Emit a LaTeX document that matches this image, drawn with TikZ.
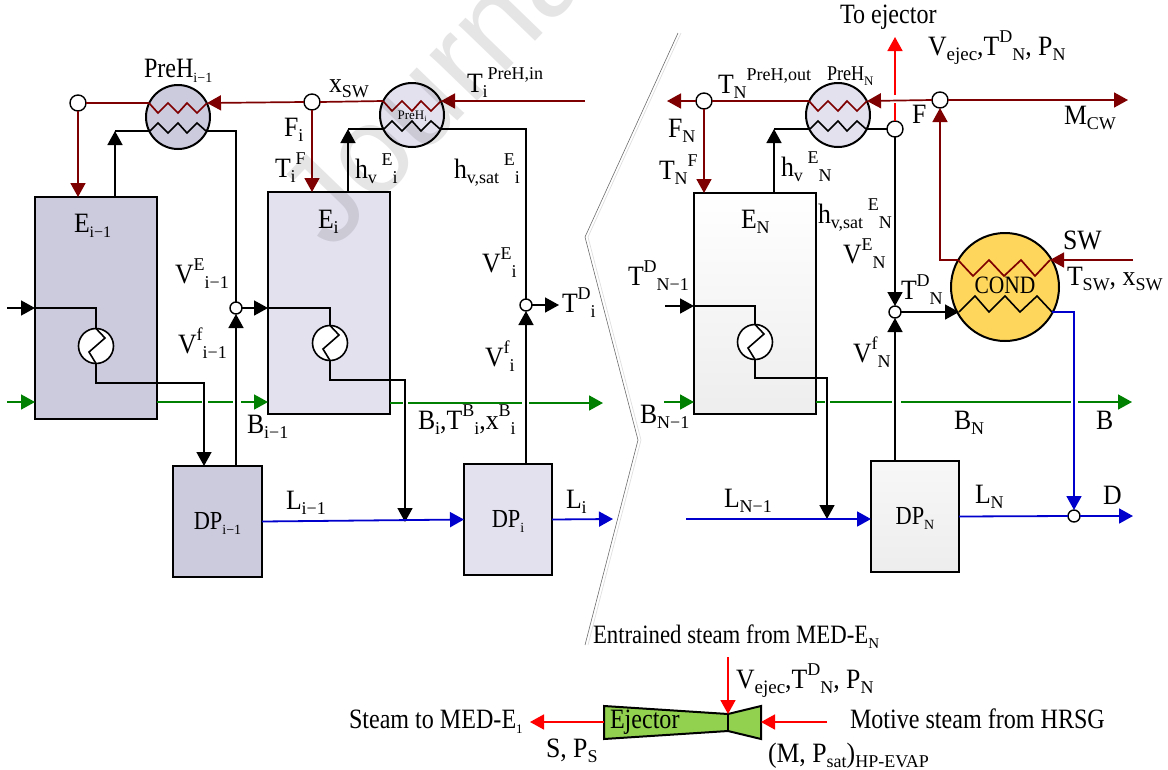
\documentclass[tikz,border=0pt]{standalone}
\usepackage{fontspec}
\setmainfont{Liberation Serif}
\newfontfamily\tallfont[FakeStretch=0.92]{Liberation Serif}
\newfontfamily\longfont[FakeStretch=0.86]{Liberation Serif}
\newfontfamily\wmfont{Liberation Sans}
\usetikzlibrary{arrows.meta,calc}
\definecolor{dred}{HTML}{7F0000}
\definecolor{dgreen}{HTML}{008000}
\definecolor{dblue}{HTML}{0000CC}
\definecolor{darkbox}{HTML}{CCCADD}
\definecolor{lightbox}{HTML}{E3E1EE}
\definecolor{condfill}{HTML}{FFD65C}
\definecolor{ejfill}{HTML}{92D050}
\newcommand\lo[2][18]{\raisebox{-5pt}[0pt][0pt]{\rmfamily\fontsize{#1}{#1}\selectfont #2}}
\newcommand\hi[2][18]{\raisebox{13pt}[0pt][0pt]{\rmfamily\fontsize{#1}{#1}\selectfont #2}}
\newcommand\prehx[1]{%
  \coordinate (#1rl) at ([shift={(-29,-14)}]#1.center);
  \coordinate (#1rr) at ([shift={(29,-14)}]#1.center);
  \coordinate (#1kl) at ([shift={(-28,14)}]#1.center);
  \coordinate (#1kr) at ([shift={(28,14)}]#1.center);
  \draw[red2] (#1rl) -- ([shift={(-20,-4)}]#1.center) -- ([shift={(-10,-14)}]#1.center) -- ([shift={(0,-4)}]#1.center) -- ([shift={(9,-14)}]#1.center) -- ([shift={(19,-4)}]#1.center) -- (#1rr);
  \draw[blk] (#1kl) -- ([shift={(-20,6)}]#1.center) -- ([shift={(-10,16)}]#1.center) -- ([shift={(0,6)}]#1.center) -- ([shift={(9,16)}]#1.center) -- ([shift={(19,6)}]#1.center) -- (#1kr);
}
\newcommand\hxzig[1]{\draw[blk] (#1.north) -- ([shift={(9,-8)}]#1.center) -- ([shift={(-7,6)}]#1.center) -- (#1.south);}
\tikzset{
  x=1pt,y=-1pt,
  tip/.tip={Triangle[length=14pt,width=15pt]},
  blk/.style={draw=black,line width=1.6pt},
  red2/.style={draw=dred,line width=1.7pt},
  brt/.style={draw=red,line width=1.7pt},
  grn/.style={draw=dgreen,line width=1.7pt},
  blu/.style={draw=dblue,line width=1.8pt},
  vessel/.style={draw=black,line width=2.2pt,inner sep=0pt,outer sep=0pt,font=\longfont\fontsize{26}{28}\selectfont},
  hxc/.style={circle,draw=black,line width=2pt,inner sep=0pt,outer sep=0pt,minimum size=64pt},
  coil/.style={circle,draw=black,fill=white,line width=1.6pt,inner sep=0pt,outer sep=0pt,minimum size=35pt},
  jbig/.style={circle,draw=black,fill=white,line width=1.4pt,inner sep=0pt,outer sep=0pt,minimum size=16pt},
  jsmall/.style={circle,draw=black,fill=white,line width=1.4pt,inner sep=0pt,outer sep=0pt,minimum size=12pt},
  lab/.style={anchor=base west,inner sep=0pt,outer sep=0pt,font=\tallfont\fontsize{28}{30}\selectfont},
  longlab/.style={anchor=base west,inner sep=0pt,outer sep=0pt,font=\longfont\fontsize{28}{30}\selectfont},
}
\begin{document}
\begin{tikzpicture}
\useasboundingbox (0,0) rectangle (1168,769);
% gray separator
\draw[gray!25,line width=.7pt] (681,33) -- (588,237) -- (641,440) -- (588,645);
\draw[gray!85!black,line width=.6pt] (678,33) -- (585,237) -- (638,440) -- (585,645);
% vessels
\node[vessel,fill=darkbox,minimum width=122pt,minimum height=222pt] (e1) at (96,308) {};
\node[vessel,fill=lightbox,minimum width=122pt,minimum height=222pt] (e2) at (329,303) {};
\node[vessel,top color=white,bottom color=black!7,minimum width=122pt,minimum height=221pt] (e3) at (755,303.5) {};
\node[vessel,fill=darkbox,minimum width=89pt,minimum height=111pt] (d1) at (217.5,521.5) {DP\lo[14]{i−1}};
\node[vessel,fill=lightbox,minimum width=88pt,minimum height=111pt] (d2) at (508,519.5) {DP\lo[14]{i}};
\node[vessel,top color=black!3,bottom color=black!7,minimum width=88pt,minimum height=111pt] (d3) at (915,516.5) {DP\lo[14]{N}};
% heat exchangers
\node[hxc,fill=darkbox] (p1) at (178,117) {};
\node[hxc,fill=lightbox] (p2) at (412,115) {};
\node[hxc,fill=lightbox] (p3) at (838,115) {};
\node[hxc,fill=condfill,minimum size=108pt] (cond) at (1005,287) {};
\prehx{p1}\prehx{p2}\prehx{p3}
\node[inner sep=0pt,font=\fontsize{13}{14}\selectfont] (p2t) at (412,116) {PreH\raisebox{-2pt}{\fontsize{8}{8}\selectfont i}};
\node[coil] (h1) at (96,346) {};
\node[coil] (h2) at (330,343) {};
\node[coil] (h3) at (755,342) {};
\hxzig{h1}\hxzig{h2}\hxzig{h3}
% condenser coils
\coordinate (crl) at (958,260);
\coordinate (crr) at (1050,260);
\coordinate (ckl) at (959,312);
\coordinate (ckr) at (1052,312);
\draw[red2] (crl) -- (973,276) -- (989,260) -- (1004,276) -- (1021,260) -- (1035,276) -- (crr);
\draw[blk] (ckl) -- (975,296) -- (989,312) -- (1005,296) -- (1020,312) -- (1037,296) -- (ckr);
\node[inner sep=0pt,anchor=base,font=\longfont\fontsize{25}{27}\selectfont] (condt) at (1005,293) {COND};
% junctions
\node[jbig] (j1) at (78,103) {};
\node[jbig] (j2) at (312,102) {};
\node[jbig] (j3) at (704,101) {};
\node[jbig] (jf) at (895,129) {};
\node[jbig] (j5) at (940,100) {};
\node[jsmall] (j4) at (236,308) {};
\node[jsmall] (j6) at (526,305) {};
\node[jsmall] (j7) at (895,312) {};
\node[jsmall] (j8) at (1074,516) {};
% free ends
\coordinate (u1) at (115,131);
\coordinate (u2) at (348,129);
\coordinate (u3) at (774,129);
\coordinate (tin) at (585,101);
\coordinate (fnl) at (667,101);
\coordinate (mcw) at (1128,100);
\coordinate (swin) at (1133,260);
\coordinate (toej) at (895,37);
\coordinate (toeja) at (895,103);
\coordinate (toejb) at (895,95);
\coordinate (in1) at (7,308);
\coordinate (in3) at (665,306);
\coordinate (tdi) at (559,305);
\coordinate (c1) at (204,383);
\coordinate (c2) at (405,380);
\coordinate (c3) at (827,378);
\coordinate (m2) at (405,522);
\coordinate (m3) at (827,519);
% dark red
\draw[red2] (j1.east) -- (p1rl);
\draw[red2,-tip] (j2.west) -- (p1rr);
\draw[red2,-tip] (j1.south) -- (j1.south |- e1.north);
\draw[red2] (j2.east) -- (p2rl);
\draw[red2,-tip] (tin) -- (p2rr);
\draw[red2,-tip] (j2.south) -- (j2.south |- e2.north);
\draw[red2,-tip] (j3.west) -- (fnl);
\draw[red2] (j3.east) -- (p3rl);
\draw[red2,-tip] (j3.south) -- (j3.south |- e3.north);
\draw[red2,-tip] (j5.west) -- (p3rr);
\draw[red2,-tip] (j5.east) -- (mcw);
\draw[red2,-tip] (crl) -| (j5.south);
\draw[red2,-tip] (swin) -- (crr);
% bright red
\draw[brt,-tip] (jf.north) -- (toeja) (toejb) -- (toej);
% black top
\draw[blk,-tip] (u1 |- e1.north) -- (u1);
\draw[blk] (u1) -- (p1kl);
\draw[blk] (p1kr) -| (j4.north);
\draw[blk,-tip] (u2 |- e2.north) -- (u2);
\draw[blk] (u2) -- (p2kl);
\draw[blk] (p2kr) -| (j6.north);
\draw[blk,-tip] (u3 |- e3.north) -- (u3);
\draw[blk] (u3) -- (p3kl);
\draw[blk] (p3kr) -- (jf.west);
\draw[blk,-tip] (jf.south) -- (j7.north);
% flash vapour
\draw[blk,-tip] (j4 |- d1.north) -- (j4.south);
\draw[blk,-tip] (j6 |- d2.north) -- (j6.south);
\draw[blk,-tip] (j7 |- d3.north) -- (j7.south);
\draw[blk,-tip] (j6.east) -- (tdi);
\draw[blk,-tip] (j7.east) -- (ckl);
% evaporator coils
\draw[blk,-tip] (in1) -- (e1.west |- in1);
\draw[blk] (e1.west |- in1) -| (h1.north);
\draw[blk,-tip] (j4.east) -- (e2.west |- j4);
\draw[blk] (e2.west |- j4) -| (h2.north);
\draw[blk,-tip] (in3) -- (e3.west |- in3);
\draw[blk] (e3.west |- in3) -| (h3.north);
\draw[blk,-tip] (h1.south) |- (c1) -- (c1 |- d1.north);
\draw[blk,-tip] (h2.south) |- (c2) -- (m2);
\draw[blk,-tip] (h3.south) |- (c3) -- (m3);
% green
\coordinate (g1) at (7,402);
\coordinate (g2) at (157,402);
\coordinate (g3) at (202,402);
\coordinate (g4) at (208,402);
\coordinate (g5) at (233,402);
\coordinate (g6) at (241,402);
\coordinate (g7) at (403,403);
\coordinate (g8) at (408,403);
\coordinate (g9) at (522,403);
\coordinate (g10) at (529,403);
\coordinate (g11) at (603,403);
\coordinate (g12) at (664,402);
\coordinate (g13) at (825,402);
\coordinate (g14) at (830,402);
\coordinate (g15) at (892,402);
\coordinate (g16) at (901,402);
\coordinate (g17) at (1071,402);
\coordinate (g18) at (1078,402);
\coordinate (g19) at (1132,402);
\draw[grn,-tip] (g1) -- (e1.west |- g1);
\draw[grn,-tip] (g2) -- (g3) (g4) -- (g5) (g6) -- (e2.west |- g6);
\draw[grn,-tip] (e2.east |- g7) -- (g7) (g8) -- (g9) (g10) -- (g11);
\draw[grn,-tip] (g12) -- (e3.west |- g12);
\draw[grn,-tip] (e3.east |- g13) -- (g13) (g14) -- (g15) (g16) -- (g17) (g18) -- (g19);
% blue
\coordinate (b1) at (613,519);
\coordinate (b2) at (686,519);
\coordinate (b3) at (1133,516);
\draw[blu,-tip] (d1.east) -- (d2.west);
\draw[blu,-tip] (d2.east) -- (b1);
\draw[blu,-tip] (b2) -- (d3.west |- b2);
\draw[blu] (d3.east) -- (j8.west);
\draw[blu,-tip] (j8.east) -- (b3);
\draw[blu,-tip] (ckr) -| (j8.north);
% ejector
\draw[black,line width=2pt,fill=ejfill,line join=miter] (604,706) -- (728,714) -- (761,706) -- (761,739) -- (728,731) -- (604,739) -- cycle;
\coordinate (ejt) at (728,714);
\coordinate (ejl) at (604,722);
\coordinate (ejr) at (761,722);
\coordinate (ejtop) at (728,657);
\coordinate (ejout) at (530,722);
\coordinate (ejin) at (827,722);
\draw[blk] (ejt) -- (728,731);
\draw[brt,-tip] (ejtop) -- (ejt);
\draw[brt,-tip] (ejl) -- (ejout);
\draw[brt,-tip] (ejin) -- (ejr);
% labels left
\node[longlab] (t1) at (144,77) {PreH\lo[14]{i−1}};
\node[lab] (t2) at (74,232) {E\lo[16]{i−1}};
\node[lab] (t3) at (175,283) {V\hi{E}\lo{i−1}};
\node[lab] (t4) at (284,136) {F\lo{i}};
\node[lab] (t5) at (275,177) {T\lo{i}\hi{F}};
\node[lab] (t6) at (329,92) {x\lo{SW}};
\node[lab] (t7) at (467,92) {T\lo{i}\hi{PreH,in}};
\node[lab] (t8) at (355,178) {h\lo{v}\,\hi{E}\lo{i}};
\node[lab] (t9) at (454,178) {h\lo{v,sat}\,\hi{E}\lo{i}};
\node[lab] (t10) at (318,228) {E\lo{i}};
\node[lab] (t11) at (482,272) {V\hi{E}\lo{i}};
\node[lab] (t12) at (178,353) {V\hi{f}\lo{i−1}};
\node[lab] (t13) at (247,433) {B\lo{i−1}};
\node[lab] (t14) at (418,429) {B\lo{i},T\hi{B}\lo{i},x\hi{B}\lo{i}};
\node[lab] (t15) at (562,312) {T\hi{D}\lo{i}};
\node[lab] (t16) at (485,366) {V\hi{f}\lo{i}};
\node[lab] (t17) at (286,509) {L\lo{i−1}};
\node[lab] (t18) at (566,508) {L\lo{i}};
% labels right
\node[longlab] (t20) at (840,23) {To ejector};
\node[lab] (t21) at (928,55) {V\lo[19]{ejec},T\hi{D}\lo{N}, P\lo{N}};
\node[lab] (t22) at (718,93) {T\lo{N}\hi{PreH,out}};
\node[lab,font=\longfont\fontsize{21}{23}\selectfont] (t23) at (827,80) {PreH\lo[13]{N}};
\node[lab] (t24) at (912,123) {F};
\node[lab] (t25) at (1064,124) {M\lo{CW}};
\node[lab] (t26) at (668,137) {F\lo{N}};
\node[lab] (t27) at (659,179) {T\lo{N}\hi{F}};
\node[lab] (t28) at (781,176) {h\lo{v}\,\hi{E}\lo{N}};
\node[lab] (t29) at (741,228) {E\lo{N}};
\node[lab] (t30) at (818,223) {h\lo{v,sat}\,\hi{E}\lo{N}};
\node[lab] (t31) at (843,263) {V\hi{E}\lo{N}};
\node[lab] (t32) at (901,299) {T\hi{D}\lo{N}};
\node[lab] (t33) at (1063,249) {SW};
\node[lab] (t34) at (1067,285) {T\lo{SW}, x\lo{SW}};
\node[lab] (t35) at (628,285) {T\hi{D}\lo{N−1}};
\node[lab] (t36) at (853,362) {V\hi{f}\lo{N}};
\node[lab] (t37) at (640,423) {B\lo{N−1}};
\node[lab] (t38) at (954,429) {B\lo{N}};
\node[lab] (t39) at (1096,429) {B};
\node[lab] (t40) at (724,507) {L\lo{N−1}};
\node[lab] (t41) at (975,503) {L\lo{N}};
\node[lab] (t42) at (1103,504) {D};
% labels ejector
\node[longlab,font=\longfont\fontsize{26.5}{28}\selectfont] (t50) at (593,643) {Entrained steam from MED-E\lo[15]{N}};
\node[lab] (t51) at (736,688) {V\lo[19]{ejec},T\hi{D}\lo{N}, P\lo{N}};
\node[longlab] (t52) at (610,728) {Ejector};
\node[longlab] (t53) at (349,728) {Steam to MED-E\lo[13]{1}};
\node[lab] (t54) at (546,757) {S, P\lo{S}};
\node[longlab] (t55) at (850,728) {Motive steam from HRSG};
\node[lab] (t56) at (768,762) {(M, P\lo{sat})\lo{HP-EVAP}};
% watermark
\node[anchor=base west,inner sep=0pt,rotate=46,text=black,text opacity=.1,font=\wmfont\fontsize{125}{125}\selectfont] (wm) at (331,253) {Journal};
\end{tikzpicture}
\end{document}
